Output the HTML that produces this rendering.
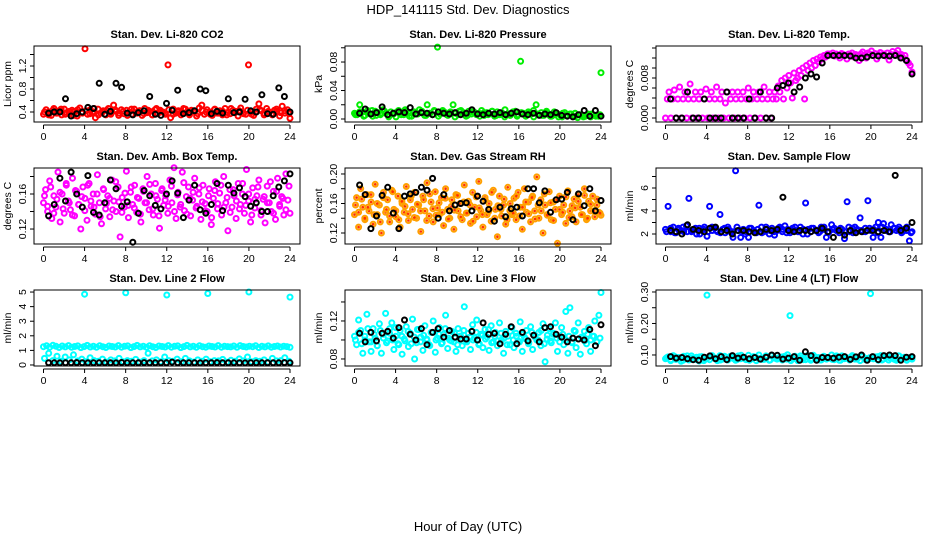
<!DOCTYPE html>
<html><head><meta charset="utf-8"><style>
html,body{margin:0;padding:0;background:#fff;}
svg{display:block;font-family:"Liberation Sans",Arial,sans-serif;}
</style></head><body>
<svg id="chart" width="936" height="540" viewBox="0 0 936 540">
<text x="468" y="14" text-anchor="middle" font-size="13">HDP_141115  Std. Dev. Diagnostics</text>
<text x="468" y="531" text-anchor="middle" font-size="13">Hour of Day (UTC)</text>
</svg>
<script>
// ---- data ----
const xTicks = [0,4,8,12,16,20,24];
const co2Red = [.36,.44,.40,.34,.46,.38,.42,.35,.45,.39,.37,.43,.41,.33,.47,.38,1.50,.36,.44,.40,.30,.45,.38,.42,.35,.46,.39,.52,.41,.34,.44,.37,.43,.40,.36,.45,.38,.42,.34,.46,.39,.41,.35,.44,.37,.43,.40,.36,1.22,.30,.45,.38,.42,.35,.46,.39,.37,.43,.41,.33,.47,.52,.36,.44,.40,.34,.45,.38,.42,.35,.46,.39,.37,.43,.41,.33,.47,.38,.36,1.22,.40,.34,.45,.54,.42,.35,.46,.39,.37,.43,.41,.33,.50,.38,.44,.29];
const co2Red2 = [.40,.35,.43,.38,.45,.36,.41,.34,.44,.39,.42,.37,.46,.35,.40,.43,.36,.44,.38,.41,.34,.45,.39,.42,.37,.43,.35,.46,.40,.38,.44,.36,.41,.39,.45,.35,.42,.37,.43,.40,.36,.44,.38,.41,.35,.46,.39,.42,.37,.43,.36,.40,.44,.38,.41,.35,.45,.39,.42,.37];
const co2Black = [.38,.40,.40,.63,.33,.37,.40,.48,.46,.90,.36,.41,.90,.83,.38,.35,.39,.42,.67,.36,.34,.55,.43,.78,.37,.39,.42,.80,.77,.37,.41,.38,.63,.39,.40,.62,.42,.40,.70,.37,.36,.82,.67,.40];
const presGreen = [.008,.006,.020,.010,.005,.012,.007,.004,.011,.009,.006,.013,.008,.005,.010,.007,.003,.012,.009,.006,.011,.008,.004,.010,.007,.013,.009,.005,.020,.008,.006,.011,.101,.007,.012,.009,.005,.010,.020,.008,.006,.012,.009,.004,.011,.007,.010,.006,.008,.012,.005,.009,.007,.011,.004,.010,.006,.008,.013,.007,.005,.009,.011,.006,.081,.008,.004,.010,.007,.012,.020,.006,.009,.005,.011,.007,.004,.010,.008,.006,.003,.009,.005,.007,.004,.008,.002,.006,.005,.004,.007,.003,.006,.005,.004,.065];
const presGreen2 = [.006,.010,.004,.009,.012,.005,.008,.011,.003,.007,.010,.006,.013,.004,.009,.007,.011,.005,.008,.012,.004,.010,.006,.009,.003,.011,.007,.005,.010,.008,.004,.009,.006,.011,.005,.008,.003,.007,.010,.004,.009,.006,.008,.003,.007,.005,.009,.004,.006,.003,.008,.005,.007,.004,.006,.003,.005,.007,.004,.006];
const presBlack = [.008,.014,.007,.009,.017,.006,.008,.010,.009,.016,.007,.009,.008,.006,.010,.008,.007,.009,.006,.008,.013,.007,.006,.008,.007,.009,.006,.008,.010,.007,.006,.008,.005,.007,.006,.009,.005,.004,.003,.006,.012,.004,.012,.004];
const tempPink = [0,.0038,.0052,0,.0038,.0056,0,.0038,.0062,0,.0038,.0052,0,.0038,.0068,0,.0038,.0052,0,.0038,.0052,0,.0038,.0058,0,.0038,.0052,0,.0038,.0062,0,.0038,.0052,0,.0030,.0052,0,.0038,.0052,0,.0038,.0052,0,.0038,.0052,0,.0038,.0060,0,.0038,.0052,0,.0038,.0052,0,.0038,.0062,0,.0038,.0052,0,.0038,.0052,
.0038,.0064,.0052,.0075,.0038,.0080,.0060,.0085,.0070,.0040,.0090,.0075,
.0080,.0095,.0085,.0100,.0038,.0105,.0095,.0110,.0100,.0115,.0105,.0118,.0112,.0122,.0118,.0125,.0122,.0128,
.0128,.0126,.0130,.0124,.0128,.0126,.0120,.0129,.0127,.0125,.0118,.0128,.0126,.0130,.0122,.0127,.0125,.0115,.0128,.0132,.0126,.0120,.0130,.0128,.0134,.0125,.0129,.0118,.0127,.0131,.0126,.0128,.0124,.0130,.0116,.0127,.0133,.0126,.0129,.0135,.0124,.0127,.0120,.0125,.0115,.0110,.0105,.0092];
const tempBlack = [.0038,0,0,.0052,0,0,.0038,0,0,0,.0052,0,0,0,.0038,0,.0052,0,0,.0060,.0065,.0070,.0052,.0062,.0080,.0088,.0082,.0110,.0125,.0125,.0125,.0125,.0124,.0120,.0120,.0122,.0125,.0124,.0125,.0124,.0125,.0120,.0115,.0088];
const ambPink = [.150,.165,.140,.175,.132,.158,.145,.185,.128,.160,.138,.170,.152,.142,.178,.135,.163,.148,.120,.168,.155,.130,.172,.146,.160,.137,.182,.150,.126,.165,.143,.158,.134,.176,.152,.140,.168,.111,.156,.145,.186,.133,.162,.148,.170,.139,.155,.128,.166,.150,.180,.142,.160,.136,.172,.154,.121,.164,.147,.158,.138,.176,.150,.190,.132,.162,.145,.185,.141,.157,.168,.135,.153,.178,.146,.160,.131,.170,.149,.140,.166,.125,.155,.174,.143,.161,.136,.180,.150,.118,.165,.145,.158,.132,.172,.148,.160,.138,.188,.152,.128,.167,.144,.158,.176,.136,.154,.127,.169,.150,.140,.163,.131,.178,.148,.157,.136,.183,.153,.138];
const ambPink2 = [.158,.146,.168,.138,.154,.162,.143,.172,.150,.136,.164,.148,.157,.141,.170,.152,.145,.160,.134,.166,.149,.155,.142,.174,.151,.139,.161,.147,.168,.144,.156,.137,.163,.150,.171,.143,.158,.135,.166,.153,.146,.169,.140,.159,.148,.173,.137,.155,.162,.144,.167,.151,.141,.158,.133,.164,.149,.170,.145,.156,.139,.165,.152,.143,.172,.147,.160,.136,.154,.168,.141,.157,.150,.174,.138,.163,.146,.155,.142,.169];
const ambBlack = [.135,.148,.178,.152,.185,.160,.145,.181,.139,.136,.150,.176,.166,.146,.151,.105,.138,.164,.158,.147,.143,.160,.175,.161,.133,.153,.170,.142,.138,.148,.172,.141,.170,.161,.167,.157,.146,.150,.140,.140,.158,.168,.175,.183];
const rhOrange = [.145,.168,.128,.180,.155,.138,.172,.150,.162,.132,.186,.145,.158,.120,.175,.148,.165,.135,.178,.152,.142,.170,.128,.160,.148,.183,.137,.165,.152,.175,.140,.158,.122,.170,.150,.188,.143,.162,.135,.176,.154,.145,.168,.130,.180,.152,.140,.165,.125,.172,.150,.160,.138,.185,.147,.163,.133,.175,.155,.142,.190,.150,.128,.168,.145,.160,.136,.178,.152,.115,.170,.143,.158,.132,.182,.150,.145,.167,.138,.175,.155,.125,.180,.148,.162,.135,.170,.150,.196,.140,.165,.120,.158,.145,.176,.138,.162,.152,.106,.170,.145,.158,.133,.177,.150,.142,.166,.135,.172,.155,.145,.180,.138,.163,.150,.170,.142,.158,.148,.144];
const rhOrange2 = [.158,.148,.166,.140,.155,.172,.145,.160,.135,.168,.152,.143,.176,.150,.138,.163,.156,.146,.170,.141,.159,.150,.165,.137,.173,.153,.144,.161,.148,.167,.139,.156,.151,.171,.142,.162,.147,.158,.136,.169,.154,.145,.164,.149,.175,.140,.157,.152,.166,.138,.160,.147,.170,.143,.155,.162,.146,.168,.139,.158,.150,.173,.144,.161,.137,.165,.152,.148,.169,.141,.157,.154,.163,.145,.171,.140,.159,.150,.166,.147];
const rhBlack = [.185,.172,.126,.143,.171,.182,.147,.126,.170,.173,.175,.182,.178,.194,.140,.172,.150,.158,.160,.161,.150,.170,.163,.152,.136,.155,.142,.153,.155,.143,.180,.180,.161,.177,.148,.165,.166,.175,.138,.173,.157,.180,.150,.164];
const flowBlue = [2.4,4.4,2.2,2.6,2.1,2.5,2.3,2.2,2.7,5.1,2.2,2.4,2.0,2.5,2.3,2.6,1.8,4.4,2.3,2.5,2.2,3.7,2.4,2.1,2.6,2.2,1.7,7.5,2.3,1.7,2.4,2.2,1.7,2.5,2.3,2.1,4.5,2.6,2.2,2.4,2.0,2.5,1.9,2.3,2.6,2.2,2.7,2.4,2.1,2.5,2.3,2.2,2.6,2.0,4.7,2.4,2.2,2.5,2.3,2.1,2.6,2.4,1.7,2.2,2.8,2.5,2.3,2.1,2.4,1.6,4.8,2.2,2.5,2.6,2.3,3.4,2.2,2.5,4.9,2.3,1.7,2.6,3.0,1.7,2.9,2.4,2.2,2.8,2.5,2.3,2.6,2.1,2.4,2.6,1.4,2.2];
const flowBlue2 = [2.2,2.5,2.1,2.4,2.6,2.2,2.3,2.5,2.0,2.4,2.2,2.6,2.3,2.1,2.5,2.4,2.2,2.6,2.3,2.0,2.5,2.2,2.4,2.1,2.6,2.3,2.2,2.5,2.4,2.1,2.3,2.6,2.2,2.4,2.0,2.5,2.3,2.2,2.6,2.1,2.4,2.3,2.5,2.2,2.6,2.1,2.4,2.3,2.2,2.5,2.4,2.1,2.6,2.3,2.2,2.5,2.4,2.2,2.3,2.1];
const flowBlack = [2.3,2.2,2.0,2.8,2.4,2.3,2.2,2.5,2.6,2.2,2.3,2.0,2.3,2.3,2.2,2.1,2.2,2.4,2.3,2.4,5.2,2.3,2.2,2.3,2.3,2.2,2.3,2.5,2.2,1.7,2.3,1.9,2.3,2.1,2.2,2.3,2.3,2.2,2.3,2.2,7.1,2.3,2.5,3.0];
const line2High = [1.25,1.32,1.22,1.35,1.28,1.20,1.30,1.24,1.33,1.21,1.27,1.31,1.19,1.26,1.34,1.23,1.29,1.21,1.32,1.25,1.20,1.30,1.27,1.23,1.33,1.22,1.28,1.31,1.19,1.26,1.34,1.24,1.29,1.21,1.32,1.25,1.20,1.30,1.27,1.23,1.33,1.22,1.28,1.31,1.19,1.26,1.34,1.24,1.29,1.21,1.32,1.25,1.22,1.30,1.27,1.23,1.33,1.22,1.28,1.26,1.24,1.30,1.21,1.33,1.27,1.23,1.29,1.25,1.32,1.20,1.28,1.24,1.31,1.22,1.27,1.30,1.23,1.29,1.26,1.21];
const line2Low = [0.45,0.80,0.30,0.60,0.25,0.55,0.35,0.70,0.28,0.40,0.22,0.50,0.30,0.25,0.40,0.20,0.35,0.28,0.45,0.22,0.30,0.25,0.38,0.20,0.30,0.80,0.28,0.35,0.22,0.55,0.30,0.25,0.40,0.22,0.45,0.28,0.20,0.35,0.25,0.40,0.22,0.30,0.28,0.38,0.20,0.32,0.25,0.42,0.28,0.55,0.22,0.30,0.25,0.35,0.20,0.45,0.28,0.30,0.50,0.25];
const line2OutX = [4,8,12,16,20,24];
const line2OutY = [4.85,4.95,4.80,4.90,5.00,4.65];
const line2Black = [0.15,0.15,0.14,0.15,0.15,0.16,0.15,0.14,0.15,0.15,0.15,0.15,0.14,0.17,0.15,0.15,0.15,0.16,0.15,0.15,0.15,0.15,0.20,0.15,0.15,0.15,0.15,0.14,0.15,0.15,0.16,0.15,0.15,0.15,0.15,0.14,0.15,0.15,0.15,0.15,0.15,0.15,0.16,0.15];
const line3Cyan = [.104,.095,.121,.110,.086,.100,.127,.098,.088,.112,.102,.094,.117,.086,.106,.128,.099,.112,.118,.090,.104,.096,.110,.085,.101,.114,.093,.107,.122,.080,.097,.111,.103,.089,.115,.100,.095,.108,.120,.087,.102,.113,.096,.106,.126,.091,.100,.109,.098,.088,.112,.104,.094,.135,.099,.107,.090,.116,.102,.121,.095,.106,.092,.111,.103,.089,.115,.098,.108,.094,.118,.100,.086,.109,.104,.095,.113,.092,.107,.099,.119,.088,.103,.110,.096,.114,.090,.105,.100,.108,.094,.117,.077,.101,.112,.097,.106,.118,.088,.104,.113,.095,.130,.086,.134,.098,.110,.092,.118,.085,.102,.109,.096,.113,.088,.104,.120,.098,.126,.150];
const line3Cyan2 = [.100,.108,.096,.104,.112,.098,.106,.094,.110,.102,.097,.107,.100,.113,.095,.104,.099,.109,.096,.103,.111,.098,.105,.101,.094,.108,.100,.106,.097,.112,.102,.099,.107,.095,.104,.110,.098,.103,.100,.108,.096,.105,.101,.111,.097,.104,.099,.107,.102,.095,.109,.100,.104,.098,.106,.101,.097,.108,.103,.100,.110,.096,.105,.099,.107,.102,.098,.106,.100,.104,.097,.109,.101,.103,.099,.106,.100,.104,.098,.102];
const line3Black = [.107,.098,.108,.099,.107,.109,.102,.113,.121,.106,.100,.112,.095,.108,.112,.103,.110,.103,.101,.101,.109,.100,.118,.106,.107,.096,.106,.114,.096,.108,.099,.105,.098,.113,.114,.106,.103,.098,.102,.101,.100,.111,.094,.116];
const line4Cyan = [.088,.094,.082,.098,.086,.092,.080,.096,.089,.084,.097,.087,.093,.081,.095,.088,.290,.085,.094,.090,.082,.098,.087,.093,.084,.096,.089,.083,.097,.088,.092,.085,.099,.087,.094,.082,.100,.089,.086,.095,.083,.098,.090,.087,.093,.084,.096,.101,.225,.088,.094,.082,.097,.089,.085,.095,.083,.099,.088,.092,.084,.096,.087,.090,.100,.085,.094,.083,.097,.088,.091,.084,.098,.087,.093,.082,.096,.089,.085,.295,.088,.094,.083,.098,.087,.092,.084,.096,.089,.083,.097,.088,.093,.085,.091,.087];
const line4Cyan2 = [.091,.085,.095,.088,.083,.097,.090,.086,.094,.082,.092,.098,.087,.084,.096,.089,.093,.085,.099,.088,.083,.095,.090,.086,.097,.084,.092,.089,.094,.087,.082,.096,.091,.085,.098,.088,.093,.084,.095,.090,.086,.097,.083,.092,.089,.094,.087,.096,.085,.091,.088,.095,.084,.093,.090,.086,.097,.089,.083,.092];
const line4Black = [.095,.090,.092,.088,.085,.083,.093,.097,.088,.095,.085,.098,.090,.093,.088,.092,.087,.093,.100,.099,.087,.090,.095,.083,.110,.098,.083,.092,.092,.090,.093,.095,.086,.094,.100,.083,.095,.085,.098,.100,.098,.083,.093,.095];

// ---- layout / config ----
const panelLefts = [34,345,656], rowTops = [46,168,290];
const PW = 266, PH = 76;
const panels = [
 {name:'co2',title:'Stan. Dev. Li-820 CO2',ylab:'Licor ppm',dom:[0.226,1.548],ticks:[0.4,0.6,0.8,1.0,1.2,1.4],labels:['0.4','','0.8','','1.2',''],series:[{y:co2Red,c:'#ff0000'},{y:co2Red2,c:'#ff0000'},{y:co2Black,c:'#000',b:1}]},
 {name:'pressure',title:'Stan. Dev. Li-820 Pressure',ylab:'kPa',dom:[-0.0042,0.1025],ticks:[0,0.02,0.04,0.06,0.08,0.1],labels:['0.00','','0.04','','0.08',''],series:[{y:presGreen,c:'#00ee00'},{y:presGreen2,c:'#00ee00'},{y:presBlack,c:'#000',b:1}]},
 {name:'temp',title:'Stan. Dev. Li-820 Temp.',ylab:'degrees C',dom:[-0.0008,0.0144],ticks:[0,.002,.004,.006,.008,.010,.012,.014],labels:['0.000','','','','0.008','','',''],series:[{y:tempPink,c:'#ff00ff'},{y:tempBlack,c:'#000',b:1}]},
 {name:'amb-temp',title:'Stan. Dev. Amb. Box Temp.',ylab:'degrees C',dom:[0.1029,0.1897],ticks:[0.12,0.14,0.16,0.18],labels:['0.12','','0.16',''],series:[{y:ambPink,c:'#ff00ff'},{y:ambPink2,c:'#ff00ff'},{y:ambBlack,c:'#000',b:1}]},
 {name:'rh',title:'Stan. Dev. Gas Stream RH',ylab:'percent',dom:[0.1051,0.2081],ticks:[0.12,0.14,0.16,0.18,0.20],labels:['0.12','','0.16','','0.20'],series:[{y:rhOrange,c:'#ffa000',dot:1},{y:rhOrange2,c:'#ffa000',dot:1},{y:rhBlack,c:'#000',b:1}]},
 {name:'sample-flow',title:'Stan. Dev. Sample Flow',ylab:'ml/min',dom:[1.13,7.74],ticks:[2,3,4,5,6,7],labels:['2','','4','','6',''],series:[{y:flowBlue,c:'#0000ff'},{y:flowBlue2,c:'#0000ff'},{y:flowBlack,c:'#000',b:1}]},
 {name:'line2-flow',title:'Stan. Dev. Line 2 Flow',ylab:'ml/min',dom:[-0.07,5.14],ticks:[0,1,2,3,4,5],labels:['0','1','2','3','4','5'],series:[{y:line2High,c:'#00ffff'},{y:line2Low,c:'#00ffff'},{x:line2OutX,y:line2OutY,c:'#00ffff'},{y:line2Black,c:'#000',b:1}]},
 {name:'line3-flow',title:'Stan. Dev. Line 3 Flow',ylab:'ml/min',dom:[0.0726,0.1526],ticks:[0.08,0.10,0.12,0.14],labels:['0.08','','0.12',''],series:[{y:line3Cyan,c:'#00ffff'},{y:line3Cyan2,c:'#00ffff'},{y:line3Black,c:'#000',b:1}]},
 {name:'line4-flow',title:'Stan. Dev. Line 4 (LT) Flow',ylab:'ml/min',dom:[0.065,0.3063],ticks:[0.10,0.15,0.20,0.25,0.30],labels:['0.10','','0.20','','0.30'],series:[{y:line4Cyan,c:'#00ffff'},{y:line4Cyan2,c:'#00ffff'},{y:line4Black,c:'#000',b:1}]}
];

const NS='http://www.w3.org/2000/svg';
const svg=document.getElementById('chart');
function mk(tag,attrs,parent){const e=document.createElementNS(NS,tag);for(const k in attrs)e.setAttribute(k,attrs[k]);parent.appendChild(e);return e;}

panels.forEach((p,i)=>{
  const L=panelLefts[i%3], T=rowTops[Math.floor(i/3)], B=T+PH, R=L+PW;
  const xs=h=>L+9.5+h*(246.5/24);
  const ys=v=>B-(v-p.dom[0])/(p.dom[1]-p.dom[0])*PH;
  const g=mk('g',{},svg);
  
  
  const t=mk('text',{x:L+PW/2,y:T-8,'text-anchor':'middle','font-size':'11','font-weight':'bold'},g);
  t.textContent=p.title;
  
  
  const yl=mk('text',{x:0,y:0,'text-anchor':'middle','font-size':'10.5',transform:`translate(${L-23},${T+PH/2}) rotate(-90)`},g);
  yl.textContent=p.ylab;
  
  
  const pg=mk('g',{fill:'none','stroke-width':'2'},g);
  
  
  p.series.forEach((s,si)=>{
    const n=s.y.length;
    s.y.forEach((v,k)=>{
      let h = s.x ? s.x[k] : (s.b ? 0.5+k*(23.5/(n-1)) : (si===1 ? 0.1+k*(23.8/(n-1)) : k*24/(n-1)));
      const c=mk('circle',{cx:xs(h).toFixed(1),cy:ys(v).toFixed(1),r:'2.5',stroke:s.c},pg);
      
      
      if(s.dot){const d=mk('circle',{cx:xs(h).toFixed(1),cy:ys(v).toFixed(1),r:'1.3',fill:'#ff3000',stroke:'none'},pg);
        
        }
    });
  });
  const bx=mk('rect',{x:L,y:T,width:PW,height:PH,fill:'none',stroke:'#000','stroke-width':'1'},g);
  
  
  const ya=mk('g',{stroke:'#000','stroke-width':'1'},g);
  
  
  p.ticks.forEach((tv,k)=>{
    const y=ys(tv);
    mk('line',{x1:L-4,x2:L,y1:y,y2:y},ya);
    if(p.labels[k]){const tl=mk('text',{x:0,y:0,'text-anchor':'middle','font-size':'10.5',stroke:'none',fill:'#000',transform:`translate(${L-8},${y}) rotate(-90)`},ya);
      tl.textContent=p.labels[k];
      
      }
  });
  const xa=mk('g',{stroke:'#000','stroke-width':'1'},g);
  
  
  mk('line',{x1:xs(0),x2:xs(24),y1:B+3,y2:B+3},xa);
  xTicks.forEach(h=>{
    mk('line',{x1:xs(h),x2:xs(h),y1:B+3,y2:B+7},xa);
    const tl=mk('text',{x:xs(h),y:B+18,'text-anchor':'middle','font-size':'10.5',stroke:'none',fill:'#000'},xa);
    tl.textContent=h;
    
    
  });
});
</script>
</body></html>
